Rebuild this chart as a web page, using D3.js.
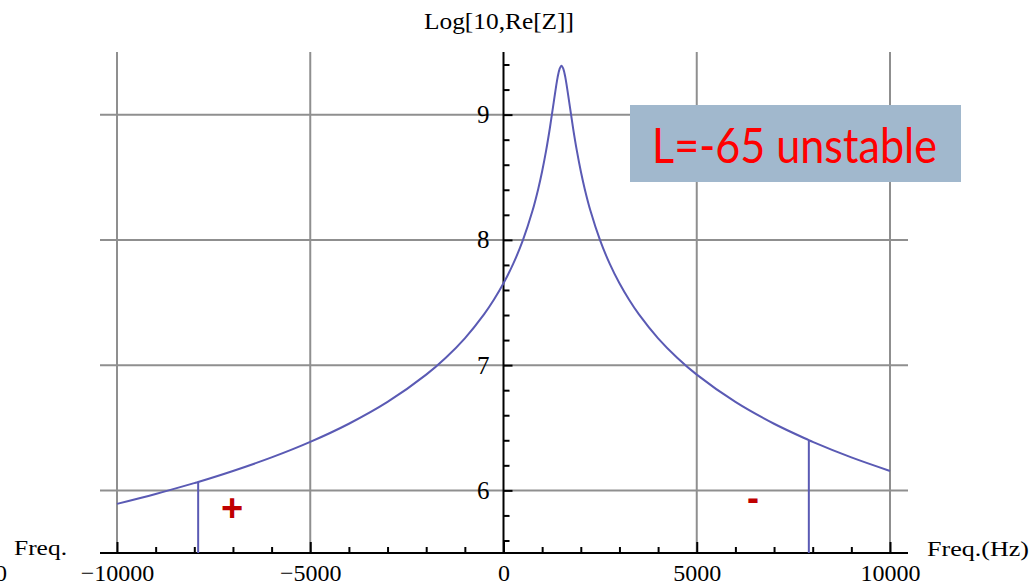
<!DOCTYPE html>
<html>
<head>
<meta charset="utf-8">
<script src="https://cdn.jsdelivr.net/npm/d3@7"></script>
<style>
  html, body { margin: 0; padding: 0; background: #fff; }
  svg { display: block; }
</style>
</head>
<body>
<svg id="chart" width="1030" height="587"></svg>
<script>
// ---- data ----
const freq = [-10000,-9000,-8000,-7900,-7000,-6000,-5000,-4000,-3000,-2000,
  -1500,-1000,-500,-250,0,250,500,750,900,1000,1100,
  1200,1300,1400,1450,1500,1550,1600,1700,1800,1900,
  2000,2100,2250,2500,2750,3000,3250,3500,4000,4500,5000,
  6000,7000,7900,8000,9000,10000];
const logRe = [5.892,5.971,6.058,6.067,6.155,6.263,6.387,6.532,6.706,6.924,
  7.057,7.214,7.407,7.522,7.653,7.808,7.996,8.232,8.409,8.548,8.708,
  8.893,9.100,9.297,9.364,9.390,9.364,9.297,9.100,8.893,8.708,
  8.548,8.409,8.232,7.996,7.808,7.653,7.522,7.407,7.214,7.057,6.924,
  6.706,6.532,6.401,6.387,6.263,6.155];
const markerFreq = [-7900, 7900];
const markerTop = [6.067, 6.401];
const xMajorTicks = [-10000, -5000, 0, 5000, 10000];
const xTickLabels = ["\u221210000", "\u22125000", "0", "5000", "10000"];
const xMinorTicks = [-9000,-8000,-7000,-6000,-4000,-3000,-2000,-1000,1000,2000,3000,4000,6000,7000,8000,9000];
const yMajorTicks = [6, 7, 8, 9];
const yTickLabels = ["6", "7", "8", "9"];
const yMinorTicks = [5.6,5.8,6.2,6.4,6.6,6.8,7.2,7.4,7.6,7.8,8.2,8.4,8.6,8.8,9.2,9.4];
const xGridVals = [-10000, -5000, 5000, 10000];
const yGridVals = [6, 7, 8, 9];
const titleText = "Log[10,Re[Z]]";
const xLabelLeft = "Freq.";
const xLabelRight = "Freq.(Hz)";
const boxText = "L=-65 unstable";

// ---- layout ----
const svg = d3.select("#chart");
const serif = "'Liberation Serif','Times New Roman',serif";
const plotL = 100, plotR = 908, plotT = 52, plotB = 553;
const x = d3.scaleLinear().domain([-10000, 10000]).range([117, 890]);
const y = d3.scaleLinear().domain([5.5, 9.5]).range([553, 52]);
const gridColor = "#8f8f8f";
const curveColor = "#5a5ab4";

// grid
svg.append("g").selectAll("line").data(yGridVals).join("line")
  .attr("x1", plotL).attr("x2", plotR)
  .attr("y1", d => y(d)).attr("y2", d => y(d))
  .attr("stroke", gridColor).attr("stroke-width", 2);
svg.append("g").selectAll("line").data(xGridVals).join("line")
  .attr("x1", d => x(d)).attr("x2", d => x(d))
  .attr("y1", plotT).attr("y2", plotB)
  .attr("stroke", gridColor).attr("stroke-width", 2);

// x axis
const xAxisG = svg.append("g").attr("transform", `translate(0,${plotB})`);
xAxisG.append("g").call(d3.axisBottom(x).tickValues(xMinorTicks).tickSize(-6).tickFormat(""))
  .call(g => g.select(".domain").remove());
xAxisG.append("g").call(d3.axisBottom(x).tickValues(xMajorTicks).tickSize(-11).tickPadding(11)
    .tickFormat((d, i) => xTickLabels[i]))
  .call(g => g.select(".domain").remove())
  .call(g => g.selectAll("text").attr("font-family", serif).attr("font-size", 24).attr("fill", "#000"));
xAxisG.selectAll(".tick line").attr("stroke", "#000").attr("stroke-width", 2);
xAxisG.append("line").attr("x1", plotL).attr("x2", plotR).attr("y1", 0).attr("y2", 0)
  .attr("stroke", "#000").attr("stroke-width", 2);

// y axis
const yAxisG = svg.append("g").attr("transform", `translate(${x(0)},0)`);
yAxisG.append("g").call(d3.axisLeft(y).tickValues(yMinorTicks).tickSize(-6).tickFormat(""))
  .call(g => g.select(".domain").remove());
yAxisG.append("g").call(d3.axisLeft(y).tickValues(yMajorTicks).tickSize(-9).tickPadding(14)
    .tickFormat((d, i) => yTickLabels[i]))
  .call(g => g.select(".domain").remove())
  .call(g => g.selectAll("text").attr("font-family", serif).attr("font-size", 25).attr("fill", "#000"));
yAxisG.selectAll(".tick line").attr("stroke", "#000").attr("stroke-width", 2);
yAxisG.append("line").attr("x1", 0).attr("x2", 0).attr("y1", plotT).attr("y2", plotB)
  .attr("stroke", "#000").attr("stroke-width", 2);

// curve
const pts = freq.map((f, i) => [f, logRe[i]]);
const line = d3.line().x(d => x(d[0])).y(d => y(d[1])).curve(d3.curveCatmullRom.alpha(0.5));
svg.append("path").datum(pts).attr("d", line)
  .attr("fill", "none").attr("stroke", curveColor).attr("stroke-width", 2);

// vertical markers
svg.append("g").selectAll("line").data(markerFreq).join("line")
  .attr("x1", d => x(d)).attr("x2", d => x(d))
  .attr("y1", (d, i) => y(markerTop[i])).attr("y2", plotB)
  .attr("stroke", curveColor).attr("stroke-width", 2);

// texts
svg.append("text").attr("x", 499).attr("y", 29).attr("text-anchor", "middle")
  .attr("font-family", serif).attr("font-size", 24).attr("textLength", 150)
  .attr("lengthAdjust", "spacingAndGlyphs").text(titleText);
svg.append("text").attr("x", 14).attr("y", 555)
  .attr("font-family", serif).attr("font-size", 20).attr("textLength", 53)
  .attr("lengthAdjust", "spacingAndGlyphs").text(xLabelLeft);
svg.append("text").attr("x", 927).attr("y", 556)
  .attr("font-family", serif).attr("font-size", 20).attr("textLength", 102)
  .attr("lengthAdjust", "spacingAndGlyphs").text(xLabelRight);
svg.append("text").attr("x", 7).attr("y", 581).attr("text-anchor", "end")
  .attr("font-family", serif).attr("font-size", 24).text("0");

// +/- markers
svg.append("text").attr("x", 232).attr("y", 521).attr("text-anchor", "middle")
  .attr("font-family", "'Liberation Sans',Arial,sans-serif").attr("font-weight", "bold")
  .attr("font-size", 38).attr("fill", "#c00000").text("+");
svg.append("text").attr("x", 753).attr("y", 510).attr("text-anchor", "middle")
  .attr("font-family", "'Liberation Sans',Arial,sans-serif").attr("font-weight", "bold")
  .attr("font-size", 36).attr("fill", "#c00000").text("-");

// annotation box
svg.append("rect").attr("x", 630).attr("y", 105).attr("width", 331).attr("height", 77)
  .attr("fill", "#a1b8cd");
svg.append("text").attr("x", 652).attr("y", 163)
  .attr("font-family", "Lato, 'Open Sans', sans-serif").attr("font-size", 48)
  .attr("fill", "#ff0000").attr("textLength", 285).attr("lengthAdjust", "spacingAndGlyphs")
  .text(boxText);
</script>
</body>
</html>
